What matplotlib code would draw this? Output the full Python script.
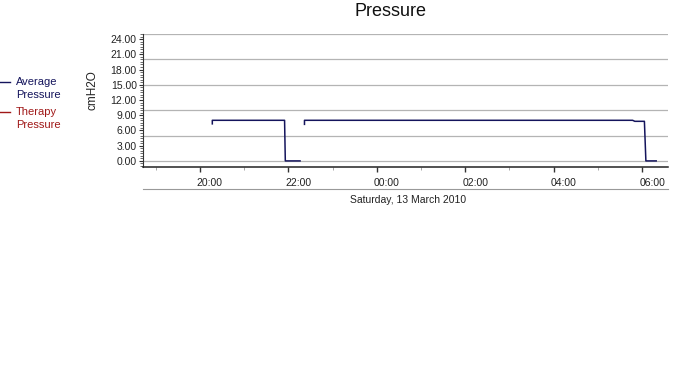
import pandas as pd
import numpy as np
import matplotlib
matplotlib.use('Agg')
import matplotlib.pyplot as plt
import matplotlib.dates as mdates
from matplotlib.lines import Line2D

plt.rcParams['font.family'] = ['Liberation Sans', 'DejaVu Sans']

# average pressure readings (cmH2O), NaN marks a gap in the trace
avg_times = ['2010-03-12 20:17', '2010-03-12 20:17', '2010-03-12 21:55', '2010-03-12 21:56',
             '2010-03-12 22:16', '2010-03-12 22:19',
             '2010-03-12 22:22', '2010-03-12 22:22', '2010-03-13 05:47', '2010-03-13 05:50',
             '2010-03-13 06:03', '2010-03-13 06:05', '2010-03-13 06:19']
avg_values = [7.3, 8.0, 8.0, 0.0,
              0.0, np.nan,
              7.2, 8.0, 8.0, 7.8,
              7.8, 0.0, 0.0]

# therapy pressure: no visible trace in the chart
therapy_times = []
therapy_values = []

y_ticks = [0, 3, 6, 9, 12, 15, 18, 21, 24]
grid_levels = [0, 5, 10, 15, 20, 25]
x_start = '2010-03-12 18:43'
x_end = '2010-03-13 06:35'

avg_color = '#14145c'
therapy_color = '#a01818'
grid_color = '#b4b4b4'
text_color = '#222222'

fig = plt.figure(figsize=(6.8, 3.84), dpi=100)
ax = fig.add_axes([143 / 680, 1 - 167 / 384, 525 / 680, 133 / 384])

for lvl in grid_levels:
    ax.axhline(lvl, color=grid_color, linewidth=0.9, zorder=1)

ax.plot(pd.to_datetime(avg_times), avg_values, color=avg_color, linewidth=1.1, zorder=3)
if therapy_times:
    ax.plot(pd.to_datetime(therapy_times), therapy_values, color=therapy_color, linewidth=1.1, zorder=2)

ax.set_ylim(-1.2, 25)
ax.set_xlim(pd.Timestamp(x_start), pd.Timestamp(x_end))

ax.set_yticks(y_ticks)
ax.set_yticklabels([f'{v:.2f}' for v in y_ticks])
ax.yaxis.set_minor_locator(matplotlib.ticker.MultipleLocator(0.5))
ax.tick_params(axis='y', which='major', length=3, width=0.8, color='#333333',
               labelsize=7.5, labelcolor=text_color, pad=1.5)
ax.tick_params(axis='y', which='minor', length=2, width=0.6, color='#555555')

ax.xaxis.set_major_locator(mdates.HourLocator(byhour=[0, 2, 4, 6, 20, 22]))
ax.xaxis.set_minor_locator(mdates.HourLocator())
ax.xaxis.set_major_formatter(mdates.DateFormatter('%H:%M'))
ax.tick_params(axis='x', which='major', length=3.6, width=1.0, color='#333333',
               labelsize=7.5, labelcolor=text_color, pad=4)
ax.tick_params(axis='x', which='minor', length=2.2, width=0.6, color='#999999')
shift = matplotlib.transforms.ScaledTranslation(10 / 100, 0, fig.dpi_scale_trans)
for lbl in ax.get_xticklabels():
    lbl.set_transform(lbl.get_transform() + shift)

for side in ['top', 'right']:
    ax.spines[side].set_visible(False)
ax.spines['left'].set_color('#333333')
ax.spines['bottom'].set_color('#222222')
ax.spines['bottom'].set_linewidth(1.1)

ax.set_ylabel('cmH2O', fontsize=8.5, color=text_color)
ax.yaxis.set_label_coords(-0.085, 0.58)

# separator under the time labels and the date caption
ax.add_line(Line2D([0, 1], [-0.165, -0.165], transform=ax.transAxes, color='#999999',
                   linewidth=0.8, clip_on=False))
ax.text(0.505, -0.245, 'Saturday, 13 March 2010', transform=ax.transAxes, ha='center',
        va='center', fontsize=7.5, color=text_color)

fig.text(390 / 680, 1 - 12 / 384, 'Pressure', ha='center', va='center', fontsize=13, color='#111111')

# legend on the left
fig.add_artist(Line2D([0, 10 / 680], [1 - 82 / 384] * 2, color=avg_color, linewidth=1))
fig.text(16 / 680, 1 - 82 / 384, 'Average', fontsize=8, color=avg_color, va='center')
fig.text(16 / 680, 1 - 95 / 384, 'Pressure', fontsize=8, color=avg_color, va='center')
fig.add_artist(Line2D([0, 10 / 680], [1 - 112 / 384] * 2, color=therapy_color, linewidth=1))
fig.text(16 / 680, 1 - 112 / 384, 'Therapy', fontsize=8, color=therapy_color, va='center')
fig.text(16 / 680, 1 - 125 / 384, 'Pressure', fontsize=8, color=therapy_color, va='center')

fig.savefig('out.png', dpi=100)
